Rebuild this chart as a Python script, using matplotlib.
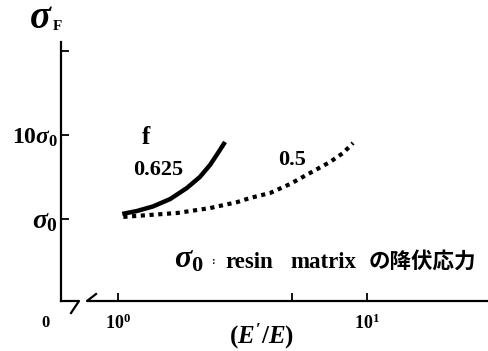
import matplotlib
matplotlib.use('Agg')
import matplotlib.pyplot as plt

plt.rcParams['mathtext.fontset'] = 'custom'
plt.rcParams['mathtext.rm'] = 'Liberation Serif:bold'
plt.rcParams['mathtext.it'] = 'Liberation Serif:italic:bold'
plt.rcParams['mathtext.bf'] = 'Liberation Serif:bold'
plt.rcParams['font.family'] = ['Liberation Serif']
plt.rcParams['font.weight'] = 'bold'

# curves (E'/E , sigma_F / sigma_0)
f0625_x = [1.04, 1.19, 1.38, 1.62, 1.89, 2.13, 2.34, 2.52, 2.69]
f0625_y = [1.15, 1.245, 1.41, 1.73, 2.34, 3.16, 4.39, 6.11, 8.26]
f05_x = [1.05, 1.73, 2.34, 3.01, 3.39, 4.08, 4.91, 5.90, 7.10, 8.01, 8.79]
f05_y = [1.06, 1.18, 1.35, 1.59, 1.78, 2.04, 2.61, 3.53, 4.77, 6.10, 8.03]

xticks = [1, 5, 10]
xticklabels = [r'$10^0$', '', r'$10^1$']
yticks = [1, 10, 100]
yticklabels = [r'$\sigma_0\;$', r'$10\sigma_0$', '']

W, H = 489, 351
fig = plt.figure(figsize=(W / 100, H / 100), dpi=100)
ax = fig.add_axes([61 / W, 1 - 301 / H, 428 / W, 259 / H])
ax.set_xscale('log')
ax.set_yscale('log')
ax.set_xlim(0.590, 30.9)
ax.set_ylim(0.1057, 128)

ax.plot(f0625_x, f0625_y, color='black', lw=3.2, solid_capstyle='butt')
ax.plot(f05_x, f05_y, color='black', lw=3.0, linestyle=(0, (1, 1.1)),
        dash_capstyle='butt')

ax.set_xticks(xticks)
ax.set_xticklabels(xticklabels)
ax.set_yticks(yticks)
ax.set_yticklabels(yticklabels)
ax.minorticks_off()
ax.tick_params(axis='both', direction='in', length=6, width=1.3)
ax.tick_params(axis='x', labelsize=13, pad=9)
ax.tick_params(axis='y', labelsize=17, pad=2)
ax.get_yticklabels()[0].set_fontsize(20)

for s in ['top', 'right', 'bottom']:
    ax.spines[s].set_visible(False)
ax.spines['left'].set_linewidth(1.6)

# broken x axis
def px(x, y):
    return ((x - 61) / 428, (301 - y) / 259)

kw = dict(transform=ax.transAxes, color='black', lw=1.6, clip_on=False)
for seg in [[(61, 301), (79, 301), (71, 313)],
            [(96, 294), (87, 301), (489, 301)]]:
    pts = [px(*p) for p in seg]
    ax.plot([p[0] for p in pts], [p[1] for p in pts], **kw)

ax.text(*px(45, 323), '0', transform=ax.transAxes, fontsize=12,
        ha='center', va='center')

fig.text(41 / W, 1 - 19 / H, r'$\sigma$', fontsize=28,
         ha='center', va='center')
fig.text(57 / W, 1 - 26 / H, 'F', fontsize=11,
         ha='center', va='center')

ax.text(*px(146, 138), 'f', transform=ax.transAxes, fontsize=18,
        ha='center', va='center')
ax.text(*px(158, 170), '0.625', transform=ax.transAxes, fontsize=16,
        ha='center', va='center')
ax.text(*px(292, 160), '0.5', transform=ax.transAxes, fontsize=16,
        ha='center', va='center')

ax.text(*px(189, 260), r'$\sigma_0$', transform=ax.transAxes, fontsize=23,
        ha='center', va='center')
ax.text(*px(213, 262), ':', transform=ax.transAxes, fontsize=8,
        ha='center', va='center')
ax.text(*px(225, 262), 'resin', transform=ax.transAxes,
        fontsize=16.5, ha='left', va='center')
ax.text(*px(290, 262), 'matrix', transform=ax.transAxes,
        fontsize=16.5, ha='left', va='center')
ax.text(*px(369, 261), 'の降伏応力', transform=ax.transAxes, fontsize=15.5,
        ha='left', va='center', family=['Noto Sans CJK JP'], fontweight='bold')

fig.text(262 / W, 1 - 336 / H, r"$(E^{\prime}/E)$", fontsize=18,
         ha='center', va='center')

fig.savefig('out.png', dpi=100)
